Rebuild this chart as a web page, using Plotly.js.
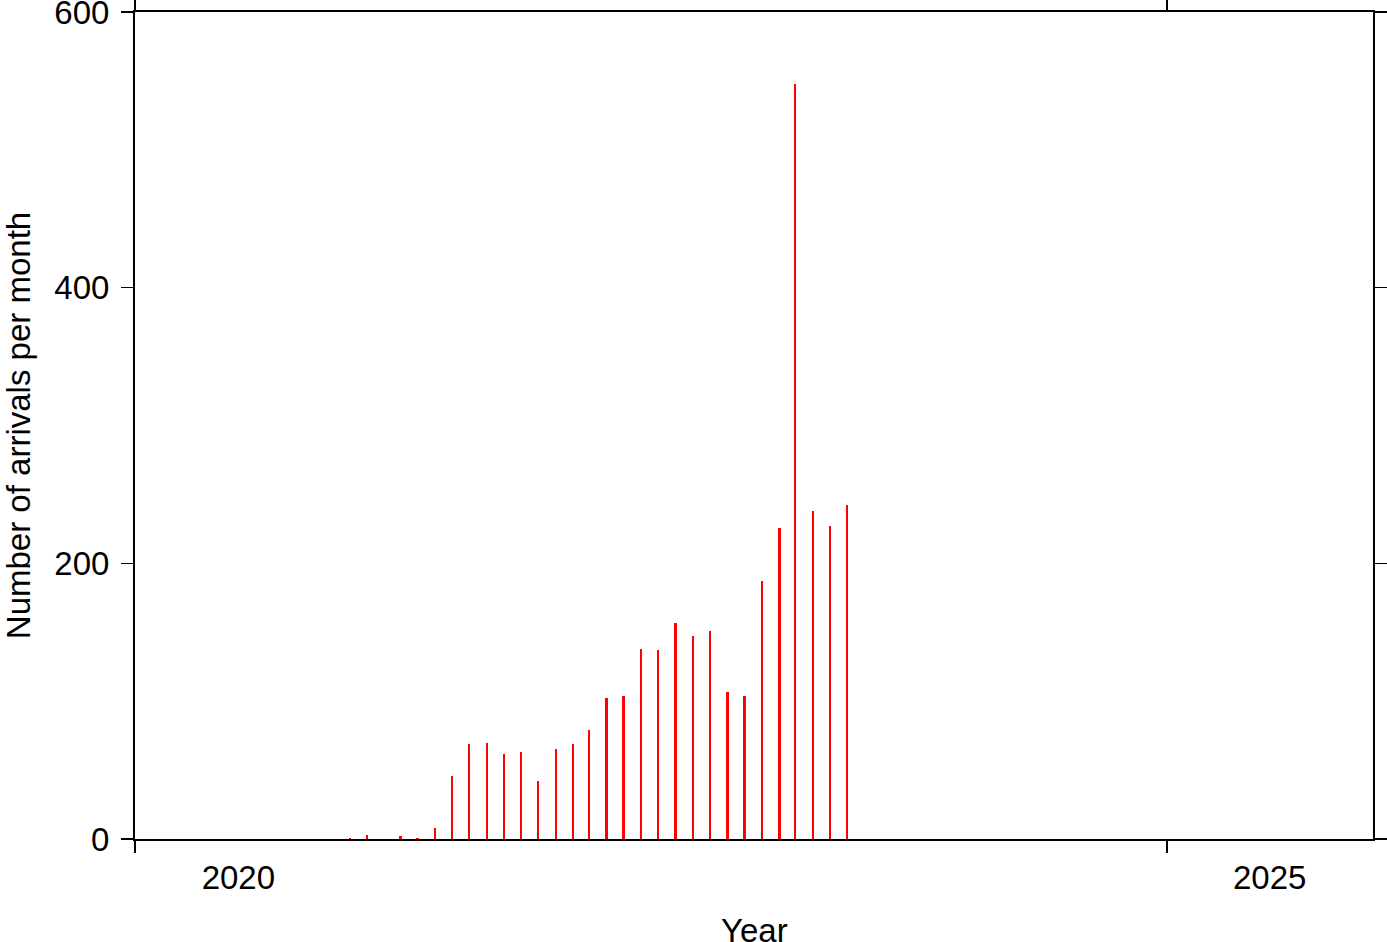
<!DOCTYPE html>
<html>
<head>
<meta charset="utf-8">
<script src="https://cdn.plot.ly/plotly-3.0.1.min.js"></script>
<style>html,body{margin:0;padding:0;background:#fff;}#chart{width:1387px;height:942px;}</style>
</head>
<body>
<div id="chart"></div>
<script>
// Monthly arrival counts (bar placed at mid-month)
const months = ["2021-01","2021-02","2021-04","2021-05","2021-06","2021-07","2021-08","2021-09","2021-10","2021-11","2021-12",
                "2022-01","2022-02","2022-03","2022-04","2022-05","2022-06","2022-07","2022-08","2022-09","2022-10","2022-11","2022-12",
                "2023-01","2023-02","2023-03","2023-04","2023-05","2023-06"];
const arrivals = [1,3,2,1,8,46,69,70,62,63,42,
                  65,69,79,102,104,138,137,157,147,151,107,104,
                  187,226,548,238,227,242];
const yearTicks = ["2020-01-01","2025-01-01"];
const yearLabelPos = ["2020-07-02","2025-07-02"];
const yearLabels = ["2020","2025"];
const yTicks = [0,200,400,600];

const xDates = months.map(m => m + "-15");
const font = {family: "Liberation Sans, Arial, Helvetica, sans-serif", color: "#000"};
const FS = 33;

const trace = {
  type: "bar",
  x: xDates,
  y: arrivals,
  width: 3.4e8,
  marker: {color: "#ff0000", line: {width: 0}},
  hoverinfo: "x+y"
};

const layout = {
  width: 1387, height: 942,
  margin: {l: 135, r: 14, t: 12, b: 103},
  paper_bgcolor: "#fff", plot_bgcolor: "#fff",
  showlegend: false,
  bargap: 0,
  xaxis: {
    type: "date",
    range: ["2020-01-01","2026-01-01"],
    tickvals: yearTicks,
    showticklabels: false,
    ticks: "outside", ticklen: 12, tickwidth: 1.5, tickcolor: "#000",
    showline: true, linewidth: 2, linecolor: "#000", mirror: "ticks",
    showgrid: false, zeroline: false
  },
  xaxis2: {
    type: "date",
    overlaying: "x",
    side: "bottom",
    range: ["2020-01-01","2026-01-01"],
    tickvals: yearLabelPos,
    ticktext: yearLabels,
    ticks: "", showline: false, showgrid: false, zeroline: false,
    ticklabelstandoff: 16,
    tickfont: Object.assign({size: FS}, font)
  },
  yaxis: {
    range: [0, 600],
    tickvals: yTicks,
    ticks: "outside", ticklen: 12, tickwidth: 1.5, tickcolor: "#000",
    showline: true, linewidth: 2, linecolor: "#000", mirror: "ticks",
    showgrid: false, zeroline: false,
    ticklabeloverflow: "allow",
    tickfont: Object.assign({size: FS}, font),
    ticklabelstandoff: 5,
    title: {text: "Number of arrivals per month", font: Object.assign({size: FS}, font), standoff: 27}
  },
  annotations: [{
    text: "Year", xref: "paper", yref: "paper", x: 0.5, y: -0.111,
    xanchor: "center", yanchor: "middle", showarrow: false,
    font: Object.assign({size: FS}, font)
  }]
};

const dummy = {type: "scatter", x: yearLabelPos, y: [null, null], xaxis: "x2", yaxis: "y", hoverinfo: "skip", showlegend: false};

Plotly.newPlot("chart", [trace, dummy], layout, {displayModeBar: false, staticPlot: true});
</script>
</body>
</html>
